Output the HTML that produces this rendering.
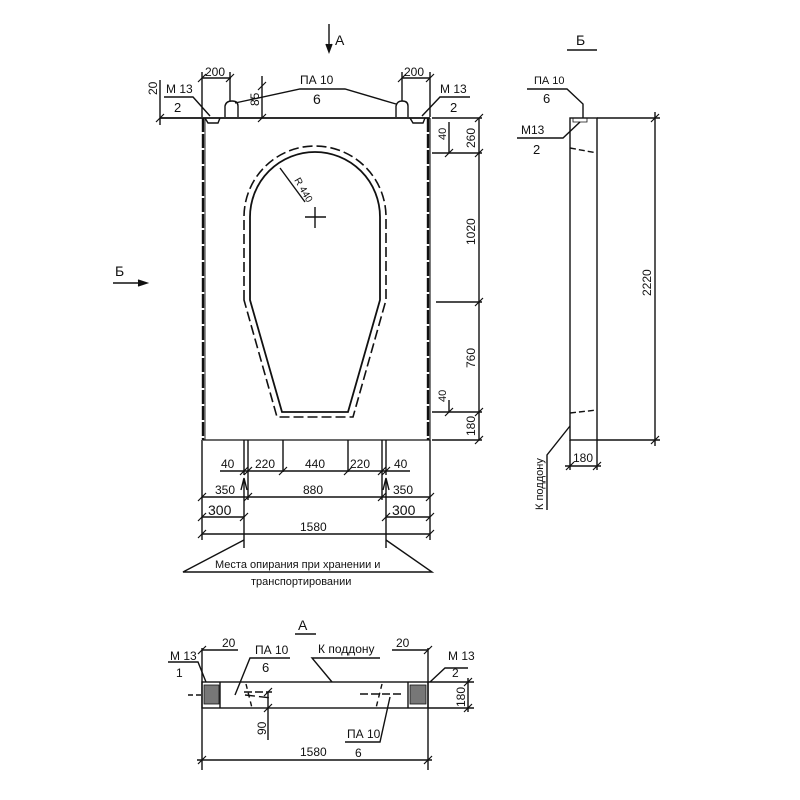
<!DOCTYPE html>
<html><head><meta charset="utf-8"><style>
html,body{margin:0;padding:0;background:#fff;}
svg{display:block}
text{font-family:"Liberation Sans Narrow","Liberation Sans",sans-serif;fill:#111;}
</style></head><body>
<svg width="800" height="800" viewBox="0 0 800 800" xmlns="http://www.w3.org/2000/svg">
<g stroke="#111" fill="none" stroke-width="1.4">
<line x1="329" y1="24" x2="329" y2="50"/><path d="M326,44 L329,52 L332,44" fill="#111"/>
<line x1="160" y1="118" x2="430" y2="118" stroke-width="1.7"/>
<line x1="203" y1="118" x2="203" y2="440" stroke-width="2.4" stroke-dasharray="14,2"/>
<line x1="428" y1="118" x2="428" y2="440" stroke-width="2.4" stroke-dasharray="14,2"/>
<line x1="205" y1="118" x2="205" y2="440" stroke-width="0.9"/>
<line x1="430" y1="118" x2="430" y2="440" stroke-width="1.1"/>
<line x1="203" y1="440" x2="430" y2="440" stroke-width="1.3"/>
<path d="M225,117 L225,106 Q226,101 232,101 Q238,101 238,106 L238,117"/>
<path d="M396,117 L396,106 Q397,101 402,101 Q408,101 408,106 L408,117"/>
<path d="M205,118 l3,5 h10 l2,-5"/><path d="M410,118 l3,5 h10 l2,-5"/>
<path d="M250,300 L250,217 A65,65 0 0 1 380,217 L380,300 L348,412 L282,412 Z" stroke-width="1.8"/>
<path d="M244,300 L244,217 A71,71 0 0 1 386,217 L386,300 L353,417 L277,417 Z" stroke-width="1.6" stroke-dasharray="10,4"/>
<line x1="305" y1="217" x2="326" y2="217"/><line x1="315" y1="207" x2="315" y2="228"/>
<line x1="280" y1="168" x2="305" y2="202"/>
<line x1="202" y1="78" x2="231" y2="78"/><line x1="402" y1="78" x2="430" y2="78"/>
<line x1="202" y1="72" x2="202" y2="117"/><line x1="230" y1="72" x2="230" y2="101"/>
<line x1="402" y1="72" x2="402" y2="101"/><line x1="430" y1="72" x2="430" y2="117"/>
<line x1="262" y1="76" x2="262" y2="118"/>
<line x1="160" y1="80" x2="160" y2="125"/>
<path d="M235,103 L300,89 L345,89 L396,104"/>
<path d="M164,97 L193,97 L210,116"/>
<path d="M470,97 L440,97 L422,116"/>
<line x1="432" y1="118" x2="482" y2="118"/>
<line x1="479" y1="118" x2="479" y2="440"/>
<line x1="432" y1="153" x2="482" y2="153"/>
<line x1="436" y1="302" x2="482" y2="302"/>
<line x1="432" y1="412" x2="482" y2="412"/>
<line x1="432" y1="440" x2="482" y2="440"/>
<line x1="449" y1="122" x2="449" y2="153"/>
<line x1="449" y1="400" x2="449" y2="412"/>
<line x1="202" y1="440" x2="202" y2="540"/>
<line x1="430" y1="440" x2="430" y2="540"/>
<line x1="244" y1="440" x2="244" y2="475"/><line x1="248" y1="440" x2="248" y2="500"/>
<line x1="283" y1="440" x2="283" y2="472"/><line x1="348" y1="440" x2="348" y2="472"/>
<line x1="382" y1="440" x2="382" y2="500"/><line x1="386" y1="440" x2="386" y2="475"/>
<line x1="220" y1="471" x2="410" y2="471"/>
<line x1="202" y1="497" x2="430" y2="497"/>
<line x1="202" y1="517" x2="244" y2="517"/><line x1="386" y1="517" x2="430" y2="517"/>
<line x1="202" y1="534" x2="430" y2="534"/>
<line x1="244" y1="480" x2="244" y2="548"/><path d="M241,490 L244,478 L247,490"/>
<line x1="386" y1="480" x2="386" y2="548"/><path d="M383,490 L386,478 L389,490"/>
<path d="M244,540 L183,572 L432,572 L386,540"/>
<line x1="113" y1="283" x2="145" y2="283"/><path d="M138,280 L147,283 L138,286" fill="#111"/>
<line x1="567" y1="50" x2="597" y2="50"/>
<rect x="570" y="118" width="27" height="322"/>
<line x1="570" y1="148" x2="597" y2="153" stroke-dasharray="6,3"/>
<line x1="570" y1="413" x2="597" y2="410" stroke-dasharray="6,3"/>
<path d="M573,118 v4 h14 v-4" stroke-width="0.8"/>
<path d="M527,89 L567,89 L583,104 L583,118"/>
<path d="M517,138 L563,138 L580,122"/>
<line x1="597" y1="118" x2="660" y2="118"/><line x1="597" y1="440" x2="660" y2="440"/>
<line x1="655" y1="112" x2="655" y2="446"/>
<line x1="570" y1="440" x2="570" y2="470"/><line x1="597" y1="440" x2="597" y2="470"/>
<line x1="565" y1="466" x2="601" y2="466"/>
<path d="M570,426 L547,455 L547,510"/>
<line x1="295" y1="634" x2="316" y2="634"/>
<rect x="202" y="682" width="226" height="26"/>
<line x1="220" y1="682" x2="220" y2="708"/><line x1="408" y1="682" x2="408" y2="708"/>
<rect x="204" y="685" width="15" height="19" fill="#777" stroke-width="0.8"/>
<rect x="410" y="685" width="16" height="19" fill="#777" stroke-width="0.8"/>
<line x1="188" y1="695" x2="204" y2="695" stroke-dasharray="5,3"/>
<line x1="244" y1="692" x2="272" y2="692" stroke-dasharray="8,3"/>
<line x1="360" y1="694" x2="404" y2="694" stroke-dasharray="8,3"/>
<line x1="245" y1="695" x2="272" y2="698" stroke-dasharray="10,4"/>
<line x1="246" y1="684" x2="252" y2="708" stroke-dasharray="5,4"/>
<line x1="382" y1="684" x2="376" y2="708" stroke-dasharray="5,4"/>
<line x1="202" y1="648" x2="202" y2="770"/><line x1="428" y1="648" x2="428" y2="770"/>
<line x1="202" y1="650" x2="238" y2="650"/><line x1="392" y1="650" x2="428" y2="650"/>
<line x1="197" y1="760" x2="432" y2="760"/>
<path d="M168,662 L198,662 L206,682"/>
<path d="M235,695 L250,658 L290,658"/>
<path d="M332,682 L312,658 L380,658"/>
<path d="M390,697 L380,742 L345,742"/>
<path d="M430,682 L445,668 L468,668"/>
<line x1="428" y1="682" x2="474" y2="682"/><line x1="428" y1="708" x2="474" y2="708"/>
<line x1="468" y1="678" x2="468" y2="712"/>
<line x1="268" y1="692" x2="268" y2="740"/>
</g>
<g stroke="#111" stroke-width="1.2">
<path d="M198,82 l8,-8 M226,82 l8,-8 M398,82 l8,-8 M426,82 l8,-8 M258,122 l8,-8 M258,90 l8,-8 M156,122 l8,-8
M475,122 l8,-8 M475,157 l8,-8 M475,306 l8,-8 M475,416 l8,-8 M475,444 l8,-8 M445,157 l8,-8 M445,416 l8,-8
M198,501 l8,-8 M426,501 l8,-8 M244,501 l8,-8 M378,501 l8,-8 M198,521 l8,-8 M240,521 l8,-8 M382,521 l8,-8 M426,521 l8,-8
M198,538 l8,-8 M426,538 l8,-8 M240,475 l8,-8 M244,475 l8,-8 M279,475 l8,-8 M344,475 l8,-8 M378,475 l8,-8 M382,475 l8,-8
M651,122 l8,-8 M651,444 l8,-8 M566,470 l8,-8 M593,470 l8,-8
M198,764 l8,-8 M424,764 l8,-8 M464,686 l8,-8 M464,712 l8,-8 M198,654 l8,-8 M424,654 l8,-8 M264,696 l8,-8 M264,712 l8,-8"/>
</g>
<g font-size="12">
<text x="335" y="45" font-size="14">А</text>
<text x="205" y="76">200</text><text x="404" y="76">200</text>
<text x="300" y="84">ПА 10</text><text x="313" y="104" font-size="14">6</text>
<text x="166" y="93">М 13</text><text x="174" y="112" font-size="13">2</text>
<text x="440" y="93">М 13</text><text x="450" y="112" font-size="13">2</text>
<text transform="translate(157,95) rotate(-90)">20</text>
<text transform="translate(259,106) rotate(-90)">85</text>
<text transform="translate(294,180) rotate(60)" font-size="10">R 440</text>
<text transform="translate(475,148) rotate(-90)">260</text>
<text transform="translate(446,140) rotate(-90)" font-size="11">40</text>
<text transform="translate(475,245) rotate(-90)">1020</text>
<text transform="translate(475,368) rotate(-90)">760</text>
<text transform="translate(446,402) rotate(-90)" font-size="11">40</text>
<text transform="translate(475,436) rotate(-90)">180</text>
<text x="221" y="468">40</text><text x="255" y="468">220</text><text x="305" y="468">440</text><text x="350" y="468">220</text><text x="394" y="468">40</text>
<text x="215" y="494">350</text><text x="303" y="494">880</text><text x="393" y="494">350</text>
<text x="208" y="515" font-size="14">300</text><text x="392" y="515" font-size="14">300</text>
<text x="300" y="531">1580</text>
<text x="215" y="568" font-size="11">Места опирания при хранении и</text>
<text x="251" y="585" font-size="11">транспортировании</text>
<text x="115" y="276" font-size="14">Б</text>
<text x="576" y="45" font-size="14">Б</text>
<text x="534" y="84" font-size="11">ПА 10</text><text x="543" y="103" font-size="13">6</text>
<text x="521" y="134">М13</text><text x="533" y="154" font-size="13">2</text>
<text transform="translate(651,296) rotate(-90)">2220</text>
<text x="573" y="462">180</text>
<text transform="translate(543,510) rotate(-90)" font-size="11">К поддону</text>
<text x="298" y="630" font-size="14">А</text>
<text x="222" y="647">20</text><text x="396" y="647">20</text>
<text x="170" y="660">М 13</text><text x="176" y="677" font-size="12">1</text>
<text x="255" y="654">ПА 10</text><text x="262" y="672" font-size="13">6</text>
<text x="318" y="653">К поддону</text>
<text x="448" y="660">М 13</text><text x="452" y="677" font-size="12">2</text>
<text transform="translate(465,707) rotate(-90)">180</text>
<text transform="translate(266,735) rotate(-90)">90</text>
<text x="347" y="738">ПА 10</text><text x="355" y="757" font-size="12">6</text>
<text x="300" y="756">1580</text>
</g>
</svg>
</body></html>
